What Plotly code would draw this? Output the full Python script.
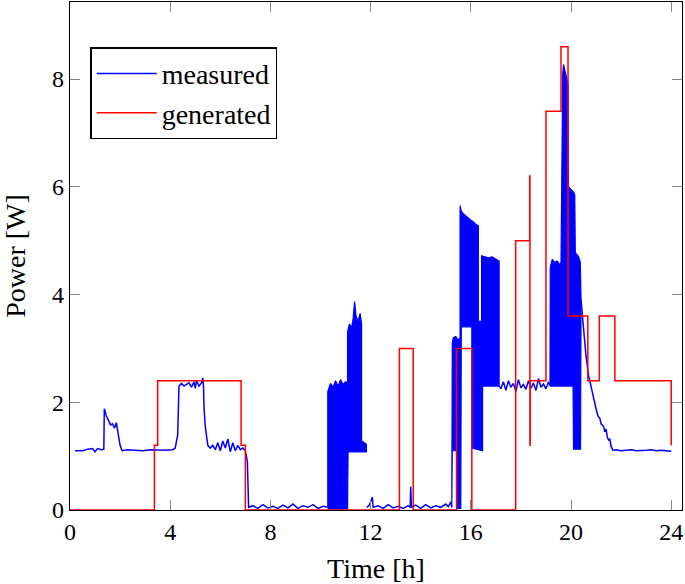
import plotly.graph_objects as go

# ---------------- data ----------------
# measured power: baseline trace (hours, watts)
meas_t = [0.2, 0.5, 0.7, 0.9, 1.0, 1.1, 1.25, 1.35, 1.37, 1.45, 1.55, 1.62, 1.7, 1.78, 1.85, 1.9, 2.0, 2.08,
          2.3, 2.6, 2.9, 3.2, 3.5, 3.8, 4.1, 4.2, 4.3, 4.35, 4.45, 4.55, 4.65, 4.75, 4.85, 4.95, 5.0, 5.05,
          5.15, 5.25, 5.3, 5.33, 5.35, 5.4, 5.5, 5.6, 5.7, 5.8, 5.9, 6.0, 6.1, 6.2, 6.3, 6.4, 6.5, 6.6,
          6.7, 6.8, 6.9, 7.0, 7.08, 7.13, 7.3, 7.5, 7.7, 7.9, 8.1, 8.3, 8.5, 8.7, 8.9, 9.1, 9.3, 9.5,
          9.7, 9.9, 10.1, 10.29,
          11.85, 11.95, 12.07, 12.1, 12.3, 12.5, 12.7, 12.9, 13.1, 13.3, 13.5, 13.58, 13.6, 13.63, 13.8,
          14.0, 14.2, 14.4, 14.6, 14.8, 15.0, 15.1, 15.2, 15.24,
          17.13, 17.2, 17.3, 17.4, 17.5, 17.6, 17.7, 17.8, 17.9, 18.0, 18.1, 18.2, 18.3, 18.4, 18.5,
          18.6, 18.7, 18.8, 18.9, 19.0, 19.1, 19.16,
          20.4, 20.5, 20.6, 20.7, 20.8, 20.9, 21.0, 21.07, 21.15, 21.2, 21.3, 21.35, 21.4, 21.45, 21.5,
          21.55, 21.6, 21.67, 21.8, 22.0, 22.2, 22.4, 22.6, 22.8, 23.0, 23.2, 23.4, 23.6, 23.8, 24.0]
meas_p = [1.10, 1.10, 1.13, 1.14, 1.08, 1.14, 1.12, 1.13, 1.88, 1.75, 1.65, 1.58, 1.60, 1.52, 1.62, 1.45, 1.20, 1.10,
          1.12, 1.11, 1.10, 1.12, 1.11, 1.11, 1.12, 1.15, 1.40, 2.30, 2.35, 2.30, 2.33, 2.36, 2.28, 2.38, 2.26, 2.40,
          2.30, 2.36, 2.45, 2.30, 1.90, 1.55, 1.20, 1.15, 1.20, 1.12, 1.25, 1.10, 1.28, 1.15, 1.32, 1.08, 1.25, 1.10,
          1.20, 1.12, 1.15, 1.10, 0.90, 0.05, 0.08, 0.03, 0.10, 0.04, 0.07, 0.03, 0.09, 0.04, 0.11, 0.03, 0.08, 0.05,
          0.10, 0.03, 0.07, 0.05,
          0.05, 0.09, 0.24, 0.05, 0.08, 0.03, 0.10, 0.04, 0.07, 0.03, 0.08, 0.05, 0.43, 0.05, 0.09,
          0.03, 0.10, 0.04, 0.08, 0.05, 0.11, 0.06, 0.15, 0.05,
          2.30, 2.25, 2.38, 2.22, 2.40, 2.28, 2.35, 2.20, 2.42, 2.27, 2.33, 2.24, 2.40, 2.26, 2.36,
          2.22, 2.44, 2.28, 2.34, 2.25, 2.38, 2.30,
          3.90, 3.30, 2.85, 2.50, 2.28, 2.05, 1.88, 1.75, 1.70, 1.60, 1.55, 1.45, 1.50, 1.35, 1.30,
          1.32, 1.18, 1.11, 1.12, 1.10, 1.11, 1.12, 1.10, 1.10, 1.11, 1.12, 1.10, 1.11, 1.10, 1.09]

# rapidly oscillating stretches of the measurement: upper and lower envelopes
band1_up_t = [10.29, 10.29, 10.4, 10.5, 10.6, 10.7, 10.8, 10.9, 11.0, 11.08, 11.08, 11.15, 11.25, 11.3, 11.36,
              11.42, 11.5, 11.58, 11.64, 11.64, 11.75, 11.83]
band1_up_p = [0.05, 2.20, 2.35, 2.28, 2.40, 2.30, 2.42, 2.33, 2.38, 2.36, 3.30, 3.45, 3.40, 3.55, 3.87,
              3.60, 3.50, 3.65, 3.45, 1.28, 1.25, 1.22]
band1_lo_t = [10.29, 11.08, 11.10, 11.83]
band1_lo_p = [0.02, 0.02, 1.08, 1.08]

band2_up_t = [15.24, 15.26, 15.3, 15.4, 15.5, 15.57, 15.57, 15.62, 15.7, 15.8, 15.9, 16.0, 16.1, 16.2, 16.3,
              16.3, 16.43, 16.43, 16.55, 16.7, 16.85, 17.0, 17.13]
band2_up_p = [0.05, 3.10, 3.20, 3.22, 3.15, 3.20, 5.65, 5.55, 5.50, 5.45, 5.42, 5.38, 5.35, 5.30, 5.28,
              3.50, 3.50, 4.72, 4.70, 4.68, 4.70, 4.65, 4.62]
band2_lo_t = [15.24, 15.26, 15.47, 15.47, 15.6, 15.62, 16.04, 16.04, 16.47, 16.47, 17.13]
band2_lo_p = [0.05, 1.10, 1.10, 0.03, 0.03, 3.40, 3.40, 1.15, 1.10, 2.30, 2.30]

band3_up_t = [19.16, 19.17, 19.25, 19.35, 19.45, 19.55, 19.6, 19.63, 19.67, 19.7, 19.75, 19.82, 19.88, 19.9,
              20.0, 20.1, 20.15, 20.17, 20.3, 20.37, 20.4]
band3_up_p = [2.30, 4.50, 4.65, 4.60, 4.62, 4.55, 4.60, 7.00, 8.10, 8.27, 8.15, 8.05, 7.90, 6.00,
              5.95, 5.90, 5.85, 4.78, 4.70, 4.60, 3.90]
band3_lo_t = [19.16, 20.08, 20.10, 20.38, 20.4]
band3_lo_p = [2.30, 2.30, 1.13, 1.13, 3.90]

# generated profile (step changes: time, level held afterwards)
gen_t = [0, 3.37, 3.5, 6.83, 7.0, 13.15, 13.7, 15.43, 16.04, 17.79, 18.35, 18.36, 18.37, 19.0, 19.6,
         19.88, 20.67, 21.13, 21.75, 24.0]
gen_p = [0, 1.2, 2.4, 1.2, 0, 3.0, 0, 3.0, 0, 5.0, 6.2, 1.2, 2.4, 7.4, 8.6,
         3.6, 2.4, 3.6, 2.4, 1.2]

x_ticks = [0, 4, 8, 12, 16, 20, 24]
y_ticks = [0, 2, 4, 6, 8]
series_names = ["measured", "generated"]
x_title = "Time [h]"
y_title = "Power [W]"

# ---------------- figure ----------------
BLUE = "#0000ff"
RED = "#ff0000"
FONT = "Liberation Serif"

fig = go.Figure()

# measured baseline: split into segments between bands
segments = []
cur_t, cur_p = [], []
for i, (t, p) in enumerate(zip(meas_t, meas_p)):
    if i > 0 and t - meas_t[i - 1] > 0.9:
        segments.append((cur_t, cur_p))
        cur_t, cur_p = [], []
    cur_t.append(t)
    cur_p.append(p)
segments.append((cur_t, cur_p))

for k, (st, sp) in enumerate(segments):
    fig.add_trace(go.Scatter(x=st, y=sp, mode="lines", line=dict(color=BLUE, width=1.5),
                             name=series_names[0], legendgroup="m", showlegend=(k == 0)))

for ut, up, lt, lp in [(band1_up_t, band1_up_p, band1_lo_t, band1_lo_p),
                       (band2_up_t, band2_up_p, band2_lo_t, band2_lo_p),
                       (band3_up_t, band3_up_p, band3_lo_t, band3_lo_p)]:
    xs = list(ut) + list(reversed(lt))
    ys = list(up) + list(reversed(lp))
    fig.add_trace(go.Scatter(x=xs, y=ys, mode="lines", fill="toself", fillcolor=BLUE,
                             line=dict(color=BLUE, width=1.2), legendgroup="m", showlegend=False,
                             hoverinfo="skip"))

fig.add_trace(go.Scatter(x=gen_t, y=gen_p, mode="lines", line=dict(color=RED, width=1.5, shape="hv"),
                         name=series_names[1]))

axis_common = dict(showline=True, linecolor="black", linewidth=1.3, mirror="allticks",
                   ticks="inside", ticklen=10, tickcolor="#888888", tickwidth=1,
                   showgrid=False, zeroline=False,
                   tickfont=dict(family=FONT, size=24, color="black"))

fig.update_xaxes(range=[0, 24.43], tickvals=x_ticks, **axis_common,
                 title=dict(text=x_title, font=dict(family=FONT, size=28, color="black"), standoff=14))
fig.update_yaxes(range=[0, 9.43], tickvals=y_ticks, **axis_common,
                 title=dict(text=y_title, font=dict(family=FONT, size=28, color="black"), standoff=19))

fig.update_layout(
    width=685, height=584,
    margin=dict(l=70, r=3, t=2, b=74, autoexpand=False),
    plot_bgcolor="white", paper_bgcolor="white",
    font=dict(family=FONT, size=24, color="black"),
    legend=dict(x=0.033, y=0.911, xanchor="left", yanchor="top",
                bgcolor="white", bordercolor="black", borderwidth=1.5,
                font=dict(family=FONT, size=28, color="black"),
                tracegroupgap=0, itemwidth=60),
    showlegend=True,
)

fig.write_html("out.html", config={"displayModeBar": False},
               post_script="document.body.style.margin='0px';document.body.style.padding='0px';")
